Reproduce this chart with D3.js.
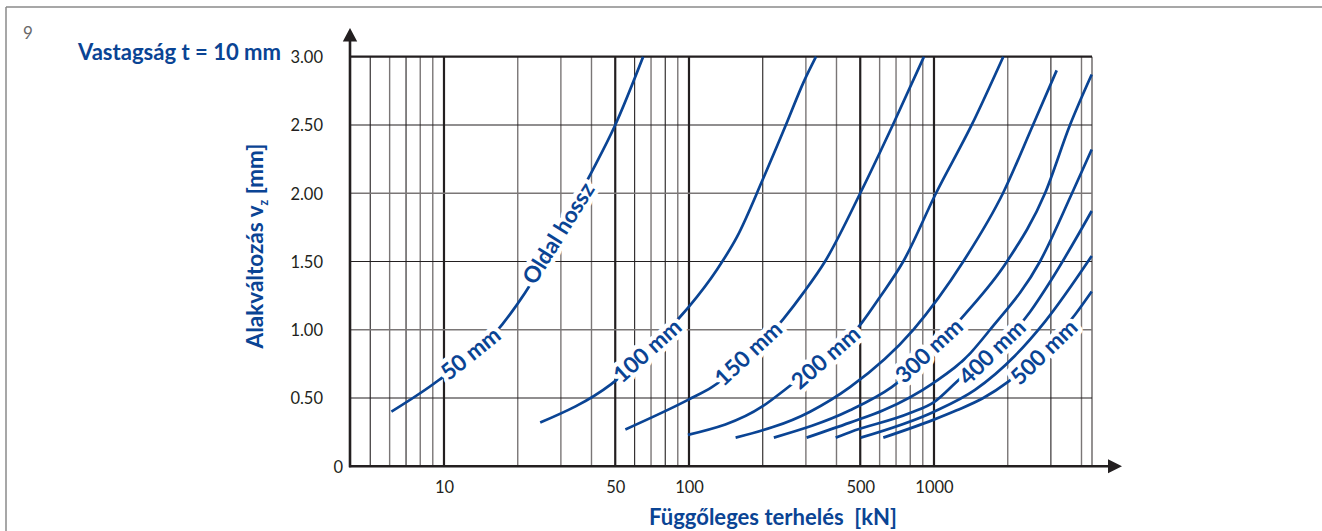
<!DOCTYPE html>
<html><head><meta charset="utf-8">
<script src="https://cdn.jsdelivr.net/npm/d3@7"></script>
<style>
body{margin:0;background:#fff}
svg{display:block}
text{font-family:Lato,"Open Sans","DejaVu Sans",sans-serif}
</style>
</head><body>
<svg id="chart" width="1322" height="531"></svg>
<script>
// ---------- data ----------
const xDomain = [4.134, 4415];
const yDomain = [0, 3];
const yTicks = [0, 0.5, 1, 1.5, 2, 2.5, 3];
const yTickLabels = ["0", "0.50", "1.00", "1.50", "2.00", "2.50", "3.00"];
const xTicks = [10, 50, 100, 500, 1000];
const xTickLabels = ["10", "50", "100", "500", "1000"];
const xGrid = [5,6,7,8,9,10,20,30,40,50,60,70,80,90,100,200,300,400,500,600,700,800,900,1000,2000,3000,4000];
const yGrid = [0.5, 1, 1.5, 2, 2.5, 3];

const sideLengths = ["50 mm","100 mm","150 mm","200 mm","250 mm","300 mm","350 mm","400 mm","450 mm","500 mm"];
const load50  = [6.1, 9.5, 17.3, 21.4, 39.1, 50, 65];
const defl50  = [0.40, 0.63, 1.04, 1.27, 2.12, 2.50, 3.00];
const load100 = [24.7, 48, 93.6, 100, 130, 157, 200, 250, 293, 330];
const defl100 = [0.32, 0.60, 1.11, 1.17, 1.44, 1.68, 2.10, 2.51, 2.81, 3.00];
const load150 = [55, 100, 124, 243, 293, 359, 500, 679, 910];
const defl150 = [0.27, 0.49, 0.58, 1.08, 1.27, 1.50, 2.00, 2.50, 3.00];
const load200 = [99, 200, 250, 507, 602, 749, 1019, 1425, 1918];
const defl200 = [0.23, 0.44, 0.57, 1.05, 1.24, 1.50, 2.00, 2.50, 3.00];
const load250 = [155, 312, 454, 823, 1317, 1912, 2536, 3168];
const defl250 = [0.21, 0.40, 0.58, 1.00, 1.50, 2.00, 2.50, 2.90];
const load300 = [222, 454, 672, 1317, 1986, 2839, 3590, 4403];
const defl300 = [0.21, 0.41, 0.58, 1.10, 1.50, 2.00, 2.50, 2.87];
const load350 = [302, 454, 621, 993, 1360, 1693, 2708, 3659, 4403];
const defl350 = [0.21, 0.32, 0.41, 0.61, 0.80, 1.00, 1.50, 2.00, 2.32];
const load400 = [397, 454, 798, 1000, 1238, 2465, 3023, 4403];
const defl400 = [0.21, 0.25, 0.39, 0.47, 0.62, 1.13, 1.37, 1.87];
const load450 = [502, 1000, 1470, 2141, 2839, 4403];
const defl450 = [0.21, 0.40, 0.56, 0.81, 1.06, 1.54];
const load500 = [621, 993, 1238, 1589, 2011, 3763, 4403];
const defl500 = [0.21, 0.34, 0.41, 0.50, 0.62, 1.11, 1.28];

const labelTexts  = ["50 mm", "Oldal hossz", "100 mm", "150 mm", "200 mm", "300 mm", "400 mm", "500 mm"];
const labelLoads  = [12.8, 29.2, 67.4, 174, 360, 950, 1720, 2800];
const labelDefls  = [0.83, 1.71, 0.85, 0.83, 0.80, 0.85, 0.84, 0.84];
const labelAngles = [-39, -58, -42, -43, -41, -43, -44, -44];

const titleText = "Vastagság t = 10 mm";
const xTitle = "Függőleges terhelés  [kN]";
const pageNumber = "9";

// ---------- drawing ----------
const BLUE = "#0a4494", DARK = "#231f20", GRAY = "#7a7676";
const svg = d3.select("#chart");
const x = d3.scaleLog().domain(xDomain).range([350, 1092]);
const y = d3.scaleLinear().domain(yDomain).range([466.3, 56.7]);

// frame
svg.append("line").attr("x1", 6).attr("x2", 1322).attr("y1", 7).attr("y2", 7)
  .attr("stroke", "#8a8a8a").attr("stroke-width", 1.5);
svg.append("line").attr("x1", 6).attr("x2", 6).attr("y1", 7).attr("y2", 531)
  .attr("stroke", "#8a8a8a").attr("stroke-width", 1.5);

const grid = svg.append("g");
const majors = new Set([10, 50, 100, 500, 1000]);
const darkMinor = new Set([5, 7, 60, 80, 200, 3000]);
grid.selectAll("line.v").data(xGrid).join("line")
  .attr("x1", d => x(d)).attr("x2", d => x(d))
  .attr("y1", y(3)).attr("y2", y(0))
  .attr("stroke", d => majors.has(d) || darkMinor.has(d) ? DARK : GRAY)
  .attr("stroke-width", d => majors.has(d) ? 2.2 : (darkMinor.has(d) ? 1.1 : 1.4));
grid.append("line").attr("x1", x(xDomain[1])).attr("x2", x(xDomain[1]))
  .attr("y1", y(3)).attr("y2", y(0)).attr("stroke", GRAY).attr("stroke-width", 1.6);
grid.selectAll("line.h").data(yGrid).join("line")
  .attr("x1", x(xDomain[0])).attr("x2", x(xDomain[1]))
  .attr("y1", d => y(d)).attr("y2", d => y(d))
  .attr("stroke", d => (d === 2 || d === 1) ? GRAY : DARK)
  .attr("stroke-width", d => d === 3 ? 2.2 : ((d === 2 || d === 1) ? 1.6 : 1.1));

// curves
const series = [
  [load50, defl50], [load100, defl100], [load150, defl150], [load200, defl200], [load250, defl250],
  [load300, defl300], [load350, defl350], [load400, defl400], [load450, defl450], [load500, defl500]
].map(([l, d], i) => ({name: sideLengths[i], pts: l.map((v, j) => [v, d[j]])}));
const line = d3.line().x(d => x(d[0])).y(d => y(d[1])).curve(d3.curveMonotoneX);
svg.append("g").selectAll("path").data(series).join("path")
  .attr("d", d => line(d.pts)).attr("fill", "none")
  .attr("stroke", BLUE).attr("stroke-width", 2.7);

// curve labels with white halo
const labels = labelTexts.map((t, i) => ({t, l: labelLoads[i], d: labelDefls[i], a: labelAngles[i]}));
svg.append("g").selectAll("text").data(labels).join("text")
  .attr("transform", d => `translate(${x(d.l)},${y(d.d)}) rotate(${d.a})`)
  .attr("text-anchor", "middle").attr("dominant-baseline", "central")
  .attr("font-size", 22.5).attr("font-weight", 700).attr("fill", BLUE)
  .attr("stroke", "#fff").attr("stroke-width", 9).attr("stroke-linejoin", "round")
  .attr("paint-order", "stroke")
  .text(d => d.t);

// axes lines + arrows
const ax = svg.append("g").attr("fill", DARK).attr("stroke", DARK);
const x0 = x(xDomain[0]), y0 = y(0);
ax.append("line").attr("x1", x0).attr("x2", x0).attr("y1", y0 + 1).attr("y2", 38).attr("stroke-width", 2.6);
ax.append("path").attr("d", `M${x0},28 L${x0 - 7.2},41.5 L${x0 + 7.2},41.5 Z`).attr("stroke", "none");
ax.append("line").attr("x1", x0 - 1).attr("x2", 1110).attr("y1", y0).attr("y2", y0).attr("stroke-width", 2.6);
ax.append("path").attr("d", `M1122,${y0} L1108,${y0 - 7} L1108,${y0 + 7} Z`).attr("stroke", "none");

// tick labels using d3 axes
const yAxis = svg.append("g").attr("transform", `translate(${x0},0)`)
  .call(d3.axisLeft(y).tickValues(yTicks).tickFormat((d, i) => yTickLabels[i]).tickSize(0).tickPadding(27));
yAxis.select(".domain").remove();
yAxis.selectAll("text").attr("font-size", 16.5).attr("fill", DARK).attr("font-family", "Lato")
  .attr("dy", "0.36em")
  .filter(d => d === 0).attr("x", -7);

const xAxis = svg.append("g").attr("transform", `translate(0,${y0})`)
  .call(d3.axisBottom(x).tickValues(xTicks).tickFormat((d, i) => xTickLabels[i]).tickSize(0));
xAxis.select(".domain").remove();
xAxis.selectAll("text").attr("font-size", 16.5).attr("fill", DARK).attr("font-family", "Lato")
  .attr("y", 493.5 - y0).attr("dy", 0);

// titles
function fit(sel, target) {
  const w = sel.node().getComputedTextLength();
  const fs = parseFloat(sel.attr("font-size"));
  sel.attr("font-size", (fs * target / w).toFixed(2));
}
svg.append("text").attr("x", 23).attr("y", 38.5).attr("font-size", 17).attr("fill", "#6a6a6a").text(pageNumber);

const t1 = svg.append("text").attr("x", 78).attr("y", 60).attr("font-size", 22)
  .attr("font-weight", 700).attr("fill", BLUE).text(titleText);
fit(t1, 203);

const t2 = svg.append("text").attr("x", 773).attr("y", 525).attr("text-anchor", "middle")
  .attr("font-size", 22).attr("font-weight", 700).attr("fill", BLUE)
  .style("white-space", "pre").text(xTitle);
fit(t2, 248);

const t3 = svg.append("text").attr("transform", "translate(263,246) rotate(-90)")
  .attr("text-anchor", "middle").attr("font-size", 22).attr("font-weight", 700).attr("fill", BLUE);
t3.append("tspan").text("Alakváltozás v");
t3.append("tspan").attr("font-size", "55%").attr("dy", 5).text("z");
t3.append("tspan").attr("dy", -5).text(" [mm]");
fit(t3, 205);
</script>
</body></html>
